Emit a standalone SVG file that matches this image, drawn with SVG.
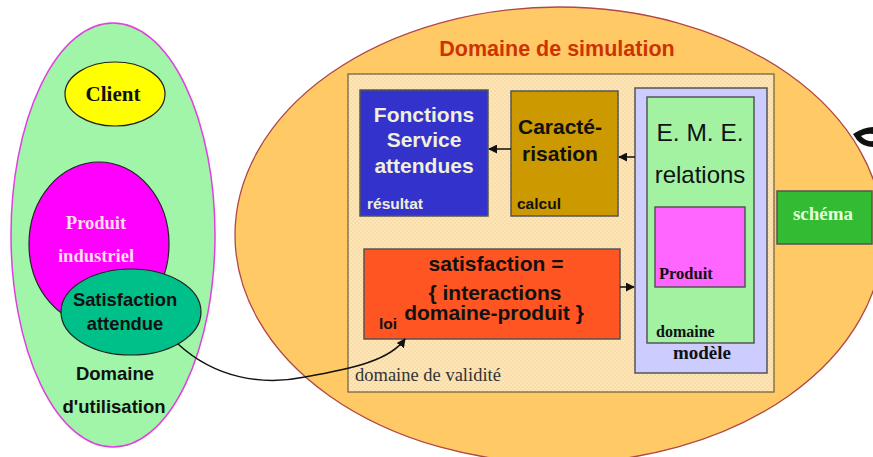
<svg xmlns="http://www.w3.org/2000/svg" width="873" height="457" viewBox="0 0 873 457">
<style>
.sans{font-family:"Liberation Sans",Arial,sans-serif;font-weight:bold}
.serif{font-family:"Liberation Serif","Times New Roman",serif;font-weight:bold}
.box{stroke:#555;stroke-width:1.5}
.conn{fill:none;stroke:#111;stroke-width:1.5}
</style>
<defs>
<pattern id="dots" width="4" height="4" patternUnits="userSpaceOnUse">
<rect width="4" height="4" fill="#fde6b8"/>
<circle cx="1" cy="1" r="0.6" fill="#f2b868"/>
<circle cx="3" cy="3" r="0.6" fill="#f2b868"/>
</pattern>
<marker id="arr" viewBox="0 0 10 10" refX="9" refY="5" markerWidth="6" markerHeight="6" orient="auto-start-reverse">
<path d="M0,0 L10,5 L0,10 z" fill="#111"/>
</marker>
</defs>
<rect width="873" height="457" fill="#fff"/>

<g id="domaine-utilisation">
<ellipse cx="113" cy="235" rx="102" ry="212" fill="#a0f5a8" stroke="#e040e0" stroke-width="1.5"/>
<text class="sans" x="115" y="380" font-size="18.5" text-anchor="middle" fill="#111">Domaine</text>
<text class="sans" x="114" y="413" font-size="18.5" text-anchor="middle" fill="#111">d'utilisation</text>
</g>
<g id="client">
<ellipse cx="115" cy="94" rx="50" ry="32" fill="#ffff00" stroke="#222" stroke-width="1.2"/>
<text class="serif" x="113" y="101" font-size="21" text-anchor="middle" fill="#111">Client</text>
</g>
<g id="produit-industriel">
<ellipse cx="99" cy="244" rx="70" ry="82" fill="#ff00ff" stroke="#222" stroke-width="1.2"/>
<text class="serif" x="96" y="229" font-size="18.5" text-anchor="middle" fill="#ffdde8">Produit</text>
<text class="serif" x="96" y="262" font-size="18.5" text-anchor="middle" fill="#ffdde8">industriel</text>
</g>
<g id="satisfaction-attendue">
<ellipse cx="131" cy="312" rx="70" ry="43" fill="#00c08a" stroke="#222" stroke-width="1.2"/>
<text class="sans" x="125" y="306" font-size="18.4" text-anchor="middle" fill="#111">Satisfaction</text>
<text class="sans" x="125" y="330" font-size="18.4" text-anchor="middle" fill="#111">attendue</text>
</g>

<g id="domaine-simulation">
<ellipse cx="559" cy="235" rx="324" ry="228" fill="#ffc966" stroke="#b04848" stroke-width="1.3"/>
<text class="sans" x="557" y="56" font-size="21.5" text-anchor="middle" fill="#cc3300">Domaine de simulation</text>
</g>
<g id="eye">
<path d="M853,134 Q864,127 873,127 L873,147 Q863,147 857,140 Q855,137 853,134 Z" fill="#111"/>
<path d="M861,136 Q867,133 873,134 L873,141 Q866,142 861,136 Z" fill="#fff"/>
</g>
<g id="domaine-validite">
<rect x="348" y="74" width="426" height="318" fill="url(#dots)" stroke="#776644" stroke-width="1.3"/>
<text x="355" y="381" font-family="Liberation Serif,Times New Roman,serif" font-size="18.5" fill="#333">domaine de validité</text>
</g>
<g id="fonctions">
<rect class="box" x="360" y="90" width="128" height="126" fill="#3333cc"/>
<text class="sans" x="424" y="122" font-size="21" text-anchor="middle" fill="#f0f0d8">Fonctions</text>
<text class="sans" x="424" y="147" font-size="21" text-anchor="middle" fill="#f0f0d8">Service</text>
<text class="sans" x="424" y="173" font-size="21" text-anchor="middle" fill="#f0f0d8">attendues</text>
<text class="sans" x="367" y="209" font-size="15.5" fill="#f0f0d8">résultat</text>
</g>
<g id="caracterisation">
<rect class="box" x="511" y="91" width="107" height="125" fill="#cc9900"/>
<text class="sans" x="560" y="134" font-size="21" text-anchor="middle" fill="#111">Caracté-</text>
<text class="sans" x="560" y="161" font-size="21" text-anchor="middle" fill="#111">risation</text>
<text class="sans" x="517" y="209" font-size="15.5" fill="#111">calcul</text>
</g>
<g id="satisfaction-loi">
<rect class="box" x="364" y="249" width="256" height="90" fill="#ff5522"/>
<text class="sans" x="496" y="271" font-size="21" text-anchor="middle" fill="#111">satisfaction =</text>
<text class="sans" x="495" y="300" font-size="21" text-anchor="middle" fill="#111">{ interactions</text>
<text class="sans" x="494" y="320" font-size="21" text-anchor="middle" fill="#111">domaine-produit }</text>
<text class="sans" x="379" y="329" font-size="15.5" fill="#111">loi</text>
</g>
<g id="modele">
<rect class="box" x="635" y="88" width="132" height="285" fill="#ccccff"/>
<text class="serif" x="702" y="359" font-size="19" text-anchor="middle" fill="#111">modèle</text>
</g>
<g id="domaine">
<rect class="box" x="647" y="97" width="107" height="246" fill="#a2f2a2"/>
<text x="700" y="141" font-family="Liberation Sans,Arial,sans-serif" font-size="24.5" text-anchor="middle" fill="#111">E. M. E.</text>
<text x="700" y="183" font-family="Liberation Sans,Arial,sans-serif" font-size="24" text-anchor="middle" fill="#111">relations</text>
<text class="serif" x="656" y="337" font-size="16" fill="#111">domaine</text>
</g>
<g id="produit">
<rect class="box" x="655" y="207" width="90" height="80" fill="#ff66ff"/>
<text class="serif" x="659" y="279" font-size="16.5" fill="#111">Produit</text>
</g>
<g id="schema">
<rect class="box" x="777" y="191" width="95" height="53" fill="#33bb33"/>
<text class="serif" x="823" y="220" font-size="19" text-anchor="middle" fill="#e6ffd8">schéma</text>
</g>

<g id="connectors">
<line class="conn" x1="511" y1="149" x2="489" y2="149" marker-end="url(#arr)"/>
<line class="conn" x1="635" y1="157" x2="619" y2="157" marker-end="url(#arr)"/>
<line class="conn" x1="620" y1="287" x2="634" y2="287" marker-end="url(#arr)"/>
<path class="conn" d="M178,344 C215,378 262,386 305,377 C355,368 390,360 405,339" marker-end="url(#arr)"/>
</g>
</svg>
